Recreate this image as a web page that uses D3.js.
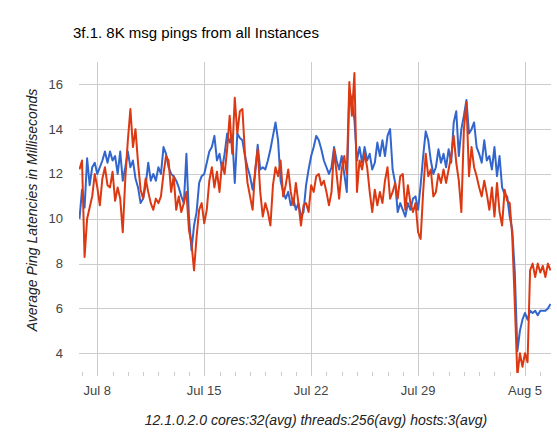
<!DOCTYPE html>
<html>
<head>
<meta charset="utf-8">
<script src="https://cdn.jsdelivr.net/npm/d3@7"></script>
<style>
  body { margin: 0; background: #fff; }
  #chart text { font-family: Arial, "Liberation Sans", sans-serif; }
  .grid line { stroke: #cccccc; stroke-width: 1; shape-rendering: crispEdges; }
  .minor line { stroke: #cccccc; stroke-width: 1; shape-rendering: crispEdges; }
  .line { fill: none; stroke-width: 2; stroke-linejoin: round; }
</style>
</head>
<body>
<svg id="chart" width="557" height="438"></svg>
<script>
// samples every 4 hours starting Jul 6 20:00
var startTime = new Date(2015, 6, 6, 20, 0);
var stepHours = 4;

var series1 = [
  10.0, 11.3, 10.5, 12.7, 11.5, 12.3, 12.5, 12.0, 12.3, 12.6, 13.0, 12.5,
  13.0, 12.6, 12.8, 12.0, 13.0, 11.7, 12.3, 13.0, 12.3, 12.6, 11.8, 11.4,
  10.7, 10.9, 11.5, 12.5, 11.7, 12.0, 11.7,
  12.3, 12.0, 13.2, 12.9, 12.3, 12.0, 11.9, 11.7, 11.4, 11.0, 10.7, 12.9,
  10.1, 8.6, 9.7, 10.3, 11.6, 11.9, 12.0, 12.5, 13.0, 13.2, 13.7, 12.6,
  12.9, 12.2, 12.9, 13.8, 13.4, 13.7, 11.6, 13.8,
  13.6, 13.5, 12.8, 12.3, 11.9, 11.3, 12.0, 13.3, 12.2, 12.3, 12.2, 12.6,
  13.1, 13.7, 14.3, 13.5, 11.7, 11.2, 10.9, 11.2, 10.6, 10.9, 10.4, 10.7,
  10.1, 10.3, 11.5, 12.2, 12.8, 13.2, 13.7,
  13.5, 13.1, 12.6, 12.3, 12.0, 12.3, 13.2, 12.6, 12.2, 12.8, 12.0, 11.2,
  15.7, 15.3, 14.4, 12.6, 13.2, 12.5, 13.2, 12.6, 12.9, 12.2, 12.5, 13.4,
  12.8, 13.5, 12.8, 13.7, 14.0, 12.2, 11.6, 10.3,
  10.7, 10.4, 10.1, 10.7, 10.4, 10.9, 11.0, 10.4, 11.5, 12.8, 13.9, 13.5,
  12.6, 12.0, 12.3, 13.1, 12.5, 12.9, 12.3, 13.1, 12.5, 14.3, 14.8, 12.8,
  14.0, 14.6, 15.3, 13.8, 14.0, 14.3, 13.2,
  12.9, 12.5, 13.5, 12.6, 12.8, 12.2, 13.2, 11.9, 12.8, 11.4, 11.1, 11.0,
  10.1, 9.5, 7.6, 4.1, 5.0, 5.5, 5.8, 5.5, 5.9, 5.8, 5.9, 5.7,
  5.9, 5.9, 5.9, 6.0, 6.2
];

var series2 = [
  12.2, 12.6, 8.3, 10.0, 10.5, 11.0, 12.0, 11.4, 10.6, 11.8, 12.3, 11.5,
  11.4, 12.1, 10.8, 11.4, 10.9, 9.4, 11.8, 13.5, 14.9, 13.2, 14.0, 12.5,
  11.3, 10.9, 11.8, 11.2, 10.7, 10.4, 10.9,
  10.7, 11.0, 12.0, 12.8, 12.6, 11.2, 11.9, 10.4, 11.0, 10.3, 10.7, 11.2,
  9.5, 8.9, 7.7, 9.2, 10.4, 10.7, 9.8, 10.4, 11.7, 12.3, 11.4, 12.1,
  11.2, 12.5, 12.0, 13.1, 14.6, 12.9, 15.4, 13.8,
  14.8, 14.9, 12.9, 11.6, 11.0, 10.4, 12.2, 13.1, 11.2, 10.1, 10.7, 10.3,
  9.7, 11.5, 12.3, 11.9, 12.6, 11.0, 11.5, 12.2, 11.2, 10.6, 11.6, 10.7,
  9.7, 10.6, 10.7, 10.3, 11.5, 11.2, 11.9,
  12.0, 11.5, 11.7, 11.2, 10.6, 11.2, 13.1, 12.0, 10.9, 12.2, 12.8, 12.0,
  16.1, 14.6, 16.5, 11.2, 12.6, 12.2, 12.9, 12.3, 11.2, 10.3, 11.3, 10.6,
  11.2, 10.7, 11.7, 12.3, 10.9, 11.2, 11.6, 10.9,
  11.9, 12.0, 10.4, 11.5, 10.7, 10.3, 10.7, 9.4, 9.1, 11.2, 12.9, 11.9,
  12.2, 11.0, 11.2, 12.0, 11.6, 12.2, 11.6, 12.2, 12.8, 13.7, 12.5, 11.7,
  10.3, 14.0, 15.2, 11.9, 13.2, 12.3, 11.9,
  11.4, 11.0, 11.7, 11.1, 10.4, 11.4, 10.1, 11.6, 10.3, 9.7, 11.3, 10.8,
  10.7, 9.2, 6.2, 3.0, 4.0, 3.4, 4.0, 3.6, 7.7, 8.0, 7.4, 8.0,
  7.6, 7.9, 7.4, 8.0, 7.7
];

var yTicks = [4, 6, 8, 10, 12, 14, 16];
var xTickDates = [new Date(2015, 6, 8), new Date(2015, 6, 15), new Date(2015, 6, 22),
                  new Date(2015, 6, 29), new Date(2015, 7, 5)];

var titleText = "3f.1. 8K msg pings from all Instances";
var xTitle = "12.1.0.2.0 cores:32(avg) threads:256(avg) hosts:3(avg)";
var yTitle = "Average Ping Latencies in Milliseconds";

var colors = ["#3366cc", "#dc3912"];

// plot box (don't call these top/left, window.top is taken)
var plotLeft = 79, plotRight = 551, plotTop = 62, plotBottom = 373;

var svg = d3.select("#chart");

var x = d3.scaleTime()
  .domain([xTickDates[0], xTickDates[4]])
  .range([97.3, 525]);

var y = d3.scaleLinear()
  .domain([4, 16])
  .range([353.3, 84.3]);

function timeAt(i) {
  return new Date(startTime.getTime() + i * stepHours * 3600 * 1000);
}

svg.append("defs").append("clipPath").attr("id", "plotClip")
  .append("rect")
  .attr("x", plotLeft).attr("y", plotTop)
  .attr("width", plotRight - plotLeft).attr("height", plotBottom - plotTop);

// horizontal grid
svg.append("g").attr("class", "grid")
  .selectAll("line").data(yTicks).enter().append("line")
  .attr("x1", plotLeft).attr("x2", plotRight)
  .attr("y1", function(d) { return Math.round(y(d)) + 0.5; })
  .attr("y2", function(d) { return Math.round(y(d)) + 0.5; });

// vertical grid at the weekly labels
svg.append("g").attr("class", "grid")
  .selectAll("line").data(xTickDates).enter().append("line")
  .attr("x1", function(d) { return Math.round(x(d)) + 0.5; })
  .attr("x2", function(d) { return Math.round(x(d)) + 0.5; })
  .attr("y1", plotTop).attr("y2", plotBottom + 3);

// small daily ticks along the bottom
var days = d3.timeDay.range(new Date(2015, 6, 7), new Date(2015, 7, 7))
  .filter(function(d) { return d.getDay() !== xTickDates[0].getDay(); });
svg.append("g").attr("class", "minor")
  .selectAll("line").data(days).enter().append("line")
  .attr("x1", function(d) { return Math.round(x(d)) + 0.5; })
  .attr("x2", function(d) { return Math.round(x(d)) + 0.5; })
  .attr("y1", plotBottom - 1).attr("y2", plotBottom + 3);

// y labels
svg.append("g")
  .selectAll("text").data(yTicks).enter().append("text")
  .attr("x", 63)
  .attr("y", function(d) { return y(d) + 4.5; })
  .attr("text-anchor", "end")
  .attr("font-size", 13)
  .attr("fill", "#444")
  .text(function(d) { return d; });

// x labels
var fmt = d3.timeFormat("%b %-d");
svg.append("g")
  .selectAll("text").data(xTickDates).enter().append("text")
  .attr("x", function(d) { return x(d); })
  .attr("y", 395)
  .attr("text-anchor", "middle")
  .attr("font-size", 13)
  .attr("fill", "#444")
  .text(function(d) { return fmt(d); });

// lines
var line = d3.line()
  .x(function(d, i) { return x(timeAt(i)); })
  .y(function(d) { return y(d); });

var plot = svg.append("g").attr("clip-path", "url(#plotClip)");
[series1, series2].forEach(function(s, k) {
  plot.append("path")
    .datum(s)
    .attr("class", "line")
    .attr("stroke", colors[k])
    .attr("d", line);
});

// titles
svg.append("text")
  .attr("x", 73).attr("y", 38)
  .attr("font-size", 15)
  .attr("fill", "#000")
  .text(titleText);

svg.append("text")
  .attr("x", 316).attr("y", 425)
  .attr("text-anchor", "middle")
  .attr("font-size", 14)
  .attr("font-style", "italic")
  .attr("fill", "#222")
  .text(xTitle);

svg.append("text")
  .attr("transform", "translate(37,210) rotate(-90)")
  .attr("text-anchor", "middle")
  .attr("font-size", 14)
  .attr("font-style", "italic")
  .attr("fill", "#222")
  .text(yTitle);
</script>
</body>
</html>
